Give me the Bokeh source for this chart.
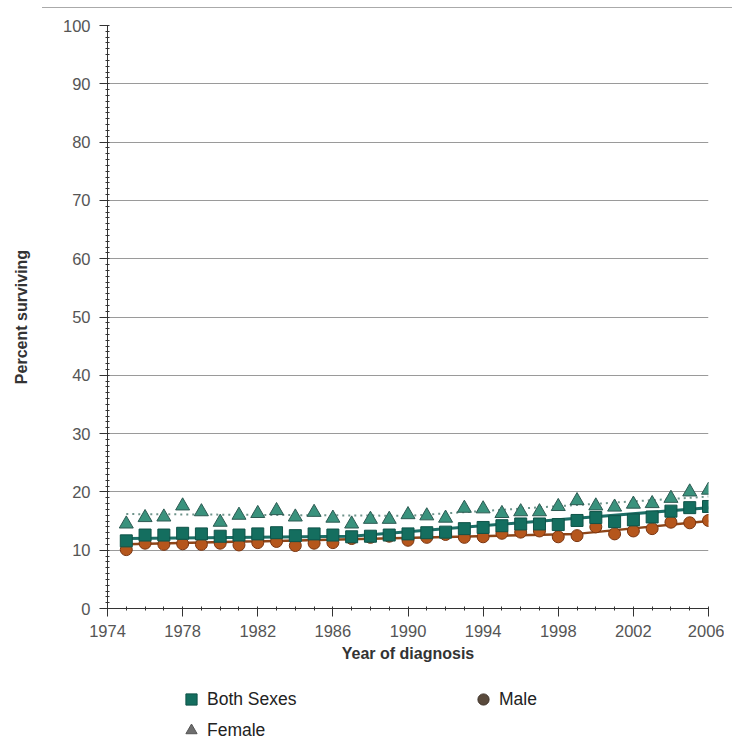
from bokeh.plotting import figure
from bokeh.models import Range1d, FixedTicker, Legend, LegendItem, Div
from bokeh.layouts import column
from bokeh.embed import file_html
from bokeh.resources import INLINE

# ---- data ----
years = list(range(1975, 2007))
both_sexes = [11.6, 12.6, 12.6, 12.9, 12.8, 12.4, 12.6, 12.8, 13.0, 12.5, 12.8, 12.6, 12.3, 12.4, 12.6, 12.8,
              13.0, 13.1, 13.7, 13.9, 14.2, 14.5, 14.5, 14.4, 15.1, 15.6, 14.9, 15.2, 15.7, 16.7, 17.3, 17.5]
male = [10.1, 11.2, 11.0, 11.1, 11.0, 11.2, 10.9, 11.3, 11.5, 10.8, 11.2, 11.3, 12.0, 12.2, 12.4, 11.7,
        12.2, 12.7, 12.2, 12.3, 12.9, 13.1, 13.3, 12.3, 12.5, 14.0, 12.8, 13.3, 13.7, 14.8, 14.7, 15.1]
female = [14.5, 15.6, 15.7, 17.6, 16.6, 14.8, 16.0, 16.3, 16.8, 15.7, 16.5, 15.5, 14.5, 15.3, 15.3, 16.1,
          15.9, 15.5, 17.2, 17.1, 16.3, 16.6, 16.6, 17.5, 18.5, 17.6, 17.4, 17.9, 18.0, 18.9, 20.0, 20.3]

# fitted trend lines (breakpoints)
both_fit_years = [1975, 1987, 2006]
both_fit = [12.0, 12.4, 17.3]
male_fit_years = [1975, 1999, 2006]
male_fit = [11.0, 12.8, 15.0]
female_fit_years = [1975, 1990, 2006]
female_fit = [16.2, 15.9, 19.2]

x_ticks = [1974, 1978, 1982, 1986, 1990, 1994, 1998, 2002, 2006]
y_ticks = list(range(0, 101, 10))
series_labels = ["Both Sexes", "Male", "Female"]

FONT = "Liberation Sans"

# styles
BOTH_FILL, BOTH_EDGE, BOTH_LINE = "#146e5f", "#0f5348", "#1c6e66"
MALE_FILL, MALE_EDGE, MALE_LINE = "#b5561c", "#7b3510", "#8e4518"
FEM_FILL, FEM_EDGE, FEM_LINE = "#3a927d", "#2c5a52", "#6f948b"

p = figure(frame_width=601, frame_height=583,
           x_range=Range1d(1974, 2006), y_range=Range1d(0, 100),
           output_backend="svg", toolbar_location=None,
           min_border_left=107, min_border_right=16, min_border_top=17, min_border_bottom=60,
           background_fill_color="white", border_fill_color="white",
           outline_line_color=None)

# axes
p.xaxis.ticker = FixedTicker(ticks=x_ticks, minor_ticks=list(range(1974, 2007)))
p.yaxis.ticker = FixedTicker(ticks=y_ticks, minor_ticks=list(range(0, 101)))
for ax in (p.xaxis, p.yaxis):
    ax.axis_line_color = "#333333"
    ax.major_tick_line_color = "#333333"
    ax.minor_tick_line_color = "#333333"
    ax.major_tick_out = 8
    ax.major_tick_in = 0
    ax.minor_tick_out = 2
    ax.minor_tick_in = 2
    ax.major_label_text_font = FONT
    ax.major_label_text_font_size = "16.5px"
    ax.major_label_text_color = "#555555"
    ax.axis_label_text_font = FONT
    ax.axis_label_text_font_style = "bold"
    ax.axis_label_text_color = "#333333"
    ax.axis_label_text_font_size = "16px"
p.xaxis.axis_label = "Year of diagnosis"
p.yaxis.axis_label = "Percent surviving"
p.xaxis.major_label_standoff = 8
p.yaxis.major_label_standoff = 9
p.xaxis.axis_label_standoff = 5
p.yaxis.axis_label_standoff = 30

p.xgrid.visible = False
p.ygrid.ticker = FixedTicker(ticks=y_ticks[1:])
p.ygrid.grid_line_color = "#9a9a9a"
p.ygrid.grid_line_width = 1

# trend lines and markers
p.line(female_fit_years, female_fit, line_color=FEM_LINE, line_width=2, line_dash="2 4")
p.scatter(years, female, marker="triangle", size=14,
          fill_color=FEM_FILL, line_color=FEM_EDGE, line_width=1)
p.line(male_fit_years, male_fit, line_color=MALE_LINE, line_width=2.5)
p.scatter(years, male, marker="circle", size=12,
          fill_color=MALE_FILL, line_color=MALE_EDGE, line_width=1)
p.line(both_fit_years, both_fit, line_color=BOTH_LINE, line_width=3)
p.scatter(years, both_sexes, marker="square", size=12,
          fill_color=BOTH_FILL, line_color=BOTH_EDGE, line_width=1)

# ---- legend strip below the chart (its renderers sit outside its visible range) ----
lg = figure(width=724, height=76, x_range=Range1d(0, 1), y_range=Range1d(0, 1),
            x_axis_type=None, y_axis_type=None, output_backend="svg", toolbar_location=None,
            min_border=0, outline_line_color=None, background_fill_color="white",
            border_fill_color="white")
lg.xgrid.visible = False
lg.ygrid.visible = False
l_both = lg.scatter(years[:1], both_sexes[:1], marker="square", size=12,
                    fill_color=BOTH_FILL, line_color=BOTH_EDGE)
l_male = lg.scatter(years[:1], male[:1], marker="circle", size=13,
                    fill_color="#5a4a3c", line_color="#3d3128")
l_fem = lg.scatter(years[:1], female[:1], marker="triangle", size=13,
                   fill_color="#6e6e6e", line_color="#555555")

legend = Legend(items=[
    LegendItem(label=series_labels[0], renderers=[l_both]),
    LegendItem(label=series_labels[1], renderers=[l_male]),
    LegendItem(label=series_labels[2], renderers=[l_fem]),
], orientation="horizontal", ncols=2, location=(69, 0))
legend.label_text_font = FONT
legend.label_text_font_size = "17.5px"
legend.label_text_color = "#222222"
legend.glyph_width = 30
legend.glyph_height = 28
legend.label_standoff = 1
legend.label_width = 258
legend.label_height = 23
legend.spacing = 3
legend.padding = 0
legend.margin = 0
legend.border_line_alpha = 0
legend.background_fill_alpha = 0
lg.add_layout(legend, "center")

top_rule = Div(text="", width=690, height=1, margin=(7, 0, 0, 42),
               styles={"border-top": "1px solid #aaaaaa"})

layout = column(top_rule, p, lg, spacing=0)

open("out.html", "w").write(file_html(layout, INLINE))
